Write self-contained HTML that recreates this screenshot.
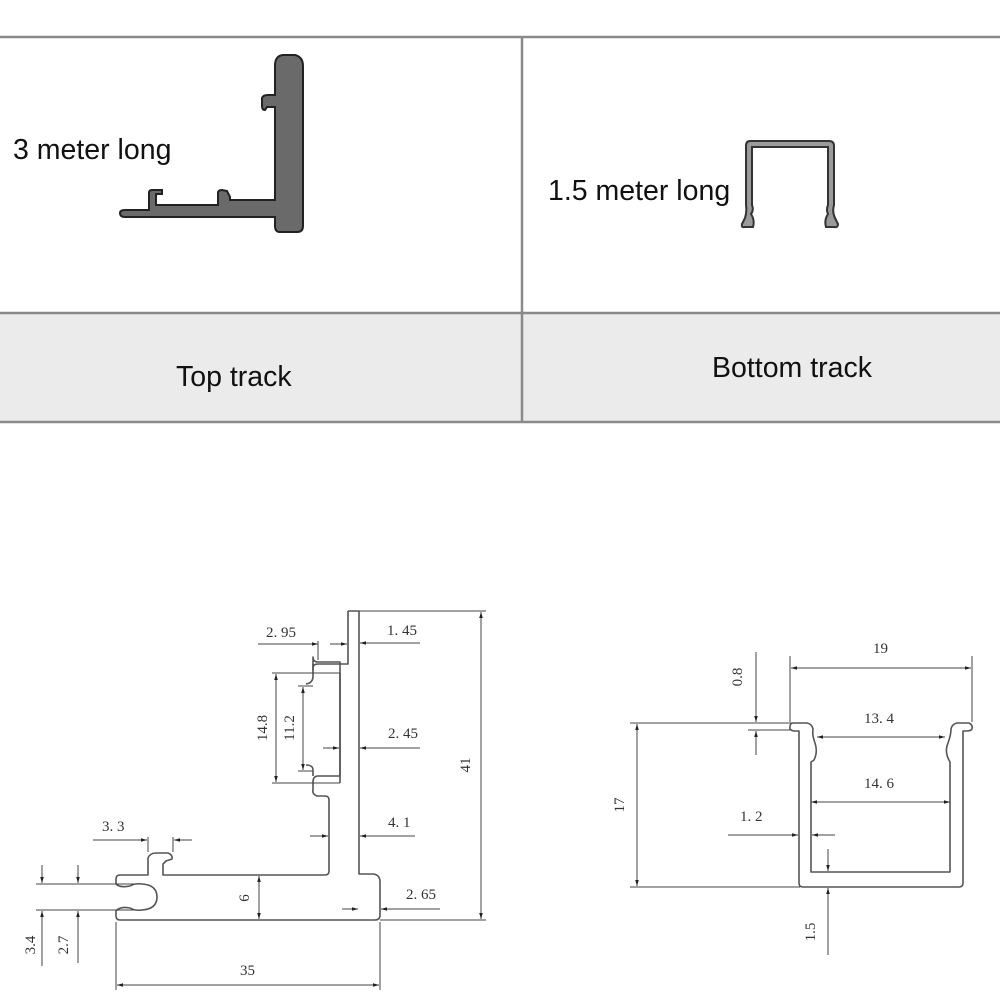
<!DOCTYPE html>
<html><head><meta charset="utf-8"><style>
html,body{margin:0;padding:0;background:#fff;}
svg{display:block;}
.t{font-family:"Liberation Sans",sans-serif;fill:#111;}
.d{font-family:"Liberation Serif",serif;fill:#333;font-size:15px;}
.l{stroke:#444;stroke-width:1;fill:none;}
.p{stroke:#555;stroke-width:1.6;fill:none;stroke-linejoin:round;}
</style></head><body>
<svg width="1000" height="1000" viewBox="0 0 1000 1000" xmlns="http://www.w3.org/2000/svg">
<defs>
<marker id="a" viewBox="0 0 10 10" refX="10" refY="5" markerWidth="8" markerHeight="6" orient="auto-start-reverse"><path d="M0,2 L10,5 L0,8 z" fill="#222"/></marker>
</defs>
<rect x="0" y="313" width="1000" height="109" fill="#ebebeb"/>
<g stroke="#8a8a8a" stroke-width="2.5">
<line x1="0" y1="37" x2="1000" y2="37"/>
<line x1="0" y1="313" x2="1000" y2="313"/>
<line x1="0" y1="422" x2="1000" y2="422"/>
<line x1="522" y1="37" x2="522" y2="422"/>
</g>
<text class="t" x="13" y="159" font-size="28.5">3 meter long</text>
<text class="t" x="548" y="200" font-size="28.5">1.5 meter long</text>
<text class="t" x="176" y="386" font-size="28.5">Top track</text>
<text class="t" x="712" y="377" font-size="28.5">Bottom track</text>
<path d="M284,55 L295,55 Q303,57 303,66 L303,226 Q303,232 297,232 L280,232 Q275,232 275,226 L275,217 L125,217 Q120,217 120,213 Q120,210 125,210 L149,210 L149,193 Q149,190 152,190 L162,190 L162,194 L156,194 L156,205 L218,205 L218,193 Q218,190 222,190 L227,191 L230,197 L230,200 L275,200 L275,107 L267,107 L265,110 Q262,110 262,106 L262,98 Q263,95 268,95 L275,95 L275,64 Q276,55 284,55 Z" fill="#6a6a6a" stroke="#222" stroke-width="2"/>
<path d="M750,141 L829,141 Q834,141 834,146 L834,205 Q832,212 835,218 L838,224 Q838,228 834,227 L826,227 Q824,220 828,214 Q826,210 828,205 L828,147 L752,147 L752,205 Q754,210 751,214 Q755,220 753,227 L745,227 Q741,228 742,224 L745,218 Q747,212 746,205 L746,146 Q746,141 750,141 Z" fill="#9a9a9a" stroke="#333" stroke-width="2"/>

<path class="p" d="M348,611 L359,611 L359,874 L372,874 Q380,874 380,882 L380,915 Q380,920 375,920 L120,920 Q116,920 116,916 L116,911 Q120,906 130,908 Q135,911 142,910 Q157,909 157,897 Q157,885 142,884 Q135,883 130,886 Q120,888 116,884 L116,879 Q116,875 120,875 L148,875 L148,858 Q150,853 156,853 L168,853 Q173,855 172,859 L166,861 L163,864 L163,875 L325,875 Q329,875 329,871 L329,800 Q329,796 325,796 L317,796 Q312,794 313,790 L313,782 Q313,776 318,776 L340,776 L340,662 L318,662 Q313,662 313,657 L313,670 L313,668 Q313,664 318,664 L348,664 L348,611"/>
<path class="p" d="M313,664 L313,676 Q313,683 306,684 M313,776 L313,770 Q313,765 306,765 M340,673 L340,783"/>
<g class="l">
<line x1="359" y1="611" x2="486" y2="611"/><line x1="380" y1="920" x2="486" y2="920"/>
<line x1="481" y1="612" x2="481" y2="919" marker-start="url(#a)" marker-end="url(#a)"/>
<line x1="116" y1="922" x2="116" y2="990"/><line x1="380" y1="922" x2="380" y2="990"/>
<line x1="117" y1="985" x2="379" y2="985" marker-start="url(#a)" marker-end="url(#a)"/>
<line x1="258" y1="644" x2="318" y2="644" marker-end="url(#a)"/><line x1="318" y1="641" x2="318" y2="660"/>
<line x1="330" y1="644" x2="347" y2="644" marker-end="url(#a)"/>
<line x1="420" y1="643" x2="360" y2="643" marker-end="url(#a)"/>
<line x1="272" y1="673" x2="340" y2="673"/><line x1="272" y1="783" x2="340" y2="783"/>
<line x1="276" y1="674" x2="276" y2="782" marker-start="url(#a)" marker-end="url(#a)"/>
<line x1="298" y1="686" x2="313" y2="686"/><line x1="298" y1="771" x2="313" y2="771"/>
<line x1="303" y1="687" x2="303" y2="770" marker-start="url(#a)" marker-end="url(#a)"/>
<line x1="323" y1="748" x2="339" y2="748" marker-end="url(#a)"/>
<line x1="420" y1="748" x2="360" y2="748" marker-end="url(#a)"/>
<line x1="310" y1="836" x2="328" y2="836" marker-end="url(#a)"/>
<line x1="415" y1="836" x2="360" y2="836" marker-end="url(#a)"/>
<line x1="93" y1="840" x2="147" y2="840" marker-end="url(#a)"/><line x1="148" y1="837" x2="148" y2="852"/>
<line x1="192" y1="840" x2="174" y2="840" marker-end="url(#a)"/><line x1="173" y1="837" x2="173" y2="852"/>
<line x1="259" y1="876" x2="259" y2="919" marker-start="url(#a)" marker-end="url(#a)"/>
<line x1="342" y1="909" x2="358" y2="909" marker-end="url(#a)"/>
<line x1="440" y1="909" x2="381" y2="909" marker-end="url(#a)"/>
<line x1="36" y1="884" x2="135" y2="884"/><line x1="36" y1="910" x2="135" y2="910"/>
<line x1="42" y1="865" x2="42" y2="883" marker-end="url(#a)"/>
<line x1="42" y1="966" x2="42" y2="911" marker-end="url(#a)"/>
<line x1="78" y1="865" x2="78" y2="883" marker-end="url(#a)"/>
<line x1="78" y1="963" x2="78" y2="911" marker-end="url(#a)"/>
</g>
<g class="d">
<text x="266" y="637">2. 95</text><text x="387" y="635">1. 45</text>
<text x="388" y="738">2. 45</text><text x="388" y="827">4. 1</text>
<text x="102" y="831">3. 3</text><text x="406" y="899">2. 65</text>
<text x="240" y="975">35</text>
<text transform="translate(267,728) rotate(-90)" text-anchor="middle">14.8</text>
<text transform="translate(294,728) rotate(-90)" text-anchor="middle">11.2</text>
<text transform="translate(470,765) rotate(-90)" text-anchor="middle">41</text>
<text transform="translate(249,898) rotate(-90)" text-anchor="middle">6</text>
<text transform="translate(35,945) rotate(-90)" text-anchor="middle">3.4</text>
<text transform="translate(68,945) rotate(-90)" text-anchor="middle">2.7</text>
</g>

<path class="p" d="M793,723 L807,723 Q812,724 813,729 Q812,735 815,743 Q818,752 814,760 L811,762 L811,872 L950,872 L950,762 Q944,752 948,743 Q951,735 951,729 Q952,724 957,723 L969,723 Q973,725 972,729 Q971,731 966,731 L963,731 L963,883 Q963,887 959,887 L803,887 Q799,887 799,883 L799,731 L794,731 Q789,730 790,727 Q790,723 793,723 Z"/>
<g class="l">
<line x1="790" y1="656" x2="790" y2="722"/><line x1="972" y1="656" x2="972" y2="722"/>
<line x1="791" y1="668" x2="971" y2="668" marker-start="url(#a)" marker-end="url(#a)"/>
<line x1="817" y1="737" x2="945" y2="737" marker-start="url(#a)" marker-end="url(#a)"/>
<line x1="811" y1="802" x2="950" y2="802" marker-start="url(#a)" marker-end="url(#a)"/>
<line x1="630" y1="723" x2="792" y2="723"/><line x1="630" y1="887" x2="800" y2="887"/>
<line x1="637" y1="724" x2="637" y2="886" marker-start="url(#a)" marker-end="url(#a)"/>
<line x1="748" y1="730" x2="790" y2="730"/>
<line x1="756" y1="652" x2="756" y2="722" marker-end="url(#a)"/>
<line x1="756" y1="755" x2="756" y2="731" marker-end="url(#a)"/>
<line x1="728" y1="835" x2="798" y2="835" marker-end="url(#a)"/>
<line x1="835" y1="835" x2="812" y2="835" marker-end="url(#a)"/>
<line x1="828" y1="849" x2="828" y2="871" marker-end="url(#a)"/>
<line x1="828" y1="955" x2="828" y2="888" marker-end="url(#a)"/>
</g>
<g class="d">
<text x="873" y="653">19</text><text x="864" y="723">13. 4</text>
<text x="864" y="788">14. 6</text><text x="740" y="821">1. 2</text>
<text transform="translate(742,677) rotate(-90)" text-anchor="middle">0.8</text>
<text transform="translate(624,805) rotate(-90)" text-anchor="middle">17</text>
<text transform="translate(815,932) rotate(-90)" text-anchor="middle">1.5</text>
</g>
</svg>
</body></html>
